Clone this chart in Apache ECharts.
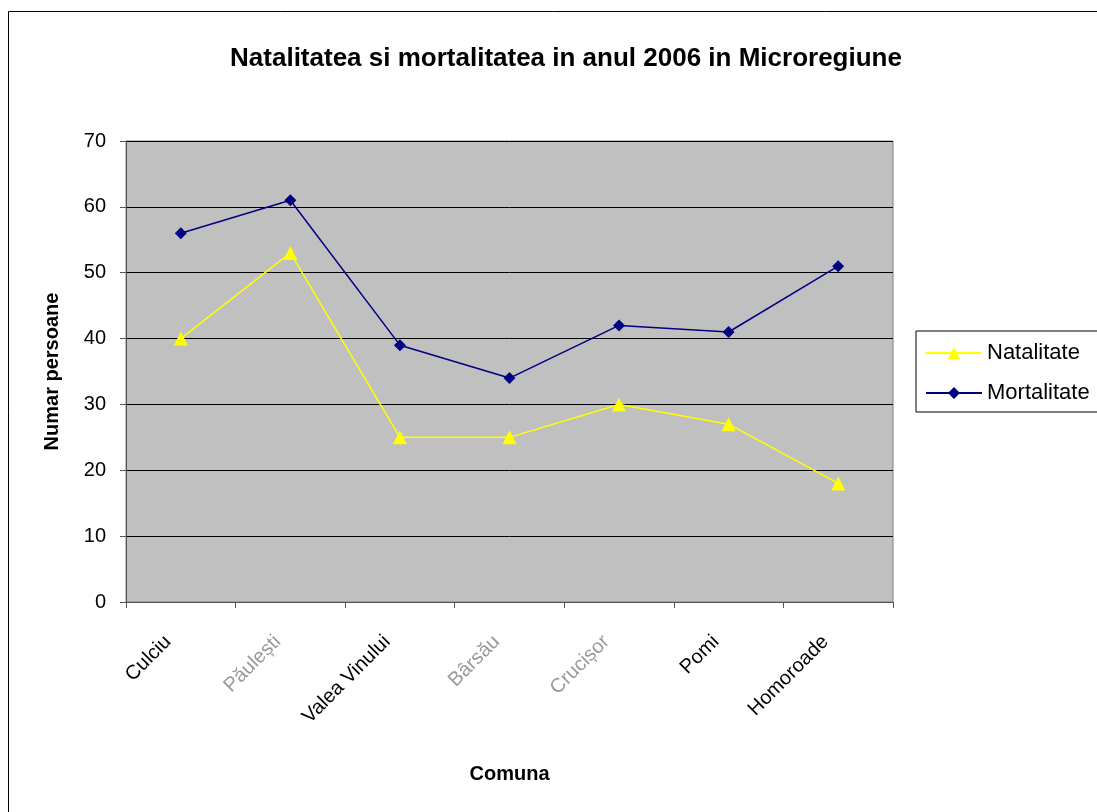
<!DOCTYPE html>
<html>
<head>
<meta charset="utf-8">
<script src="https://cdn.jsdelivr.net/npm/echarts@6/dist/echarts.min.js"></script>
<style>
  html, body { margin: 0; padding: 0; background: #fff; }
  #chart { width: 1097px; height: 812px; }
</style>
</head>
<body>
<div id="chart"></div>
<script>
// date
var comune = ['Culciu', 'Păulești', 'Valea Vinului', 'Bârsău', 'Crucișor', 'Pomi', 'Homoroade'];
var natalitate = [40, 53, 25, 25, 30, 27, 18];
var mortalitate = [56, 61, 39, 34, 42, 41, 51];
var faded = ['Păulești', 'Bârsău', 'Crucișor'];

var myChart = echarts.init(document.getElementById('chart'));
var option = {
  backgroundColor: '#fff',
  textStyle: { fontFamily: 'Liberation Sans, Arial, sans-serif' },
  animation: false,
  title: {
    text: 'Natalitatea si mortalitatea in anul 2006 in Microregiune',
    left: 561,
    textAlign: 'center',
    top: 41,
    textStyle: { fontSize: 26, fontWeight: 'bold', color: '#000' }
  },
  graphic: [{
    type: 'rect',
    shape: { x: 8.5, y: 11.5, width: 1300, height: 1000 },
    style: { fill: 'none', stroke: '#000', lineWidth: 1 },
    z: -1
  }],
  legend: {
    orient: 'vertical',
    left: 916,
    top: 331,
    padding: [11, 20, 8, 9],
    itemGap: 18,
    itemWidth: 56,
    itemHeight: 15,
    borderColor: '#000',
    borderWidth: 1,
    textStyle: { fontSize: 22, color: '#000' },
    data: ['Natalitate', 'Mortalitate']
  },
  grid: {
    left: 126,
    right: 204,
    top: 141,
    bottom: 210,
    show: true,
    backgroundColor: '#C0C0C0',
    borderColor: '#808080',
    borderWidth: 1
  },
  xAxis: {
    type: 'category',
    data: comune,
    name: 'Comuna',
    nameLocation: 'middle',
    nameGap: 162,
    nameTextStyle: { fontSize: 20, fontWeight: 'bold', color: '#000' },
    axisLine: { lineStyle: { color: '#555', width: 1 } },
    axisTick: { show: true, length: 6, lineStyle: { color: '#555' } },
    axisLabel: {
      rotate: 45,
      fontSize: 20,
      margin: 24,
      padding: [0, 18, 0, 0],
      formatter: function (v) {
        return faded.indexOf(v) >= 0 ? '{f|' + v + '}' : v;
      },
      color: '#000',
      rich: { f: { fontSize: 20, color: '#9a9a9a' } }
    }
  },
  yAxis: {
    type: 'value',
    min: 0,
    max: 70,
    interval: 10,
    name: 'Numar persoane',
    nameLocation: 'middle',
    nameGap: 64,
    nameTextStyle: { fontSize: 20, fontWeight: 'bold', color: '#000' },
    axisLine: { show: true, lineStyle: { color: '#555', width: 1 } },
    axisTick: { show: true, length: 6, lineStyle: { color: '#555' } },
    axisLabel: { fontSize: 20, color: '#000', margin: 20 },
    splitLine: { show: true, lineStyle: { color: '#000', width: 1 } }
  },
  series: [
    {
      name: 'Natalitate',
      type: 'line',
      data: natalitate,
      symbol: 'triangle',
      symbolSize: 14,
      itemStyle: { color: '#FFFF00' },
      lineStyle: { color: '#FFFF00', width: 1.5 }
    },
    {
      name: 'Mortalitate',
      type: 'line',
      data: mortalitate,
      symbol: 'diamond',
      symbolSize: 12,
      itemStyle: { color: '#000080' },
      lineStyle: { color: '#000080', width: 1.5 }
    }
  ]
};
option && myChart.setOption(option);
</script>
</body>
</html>
